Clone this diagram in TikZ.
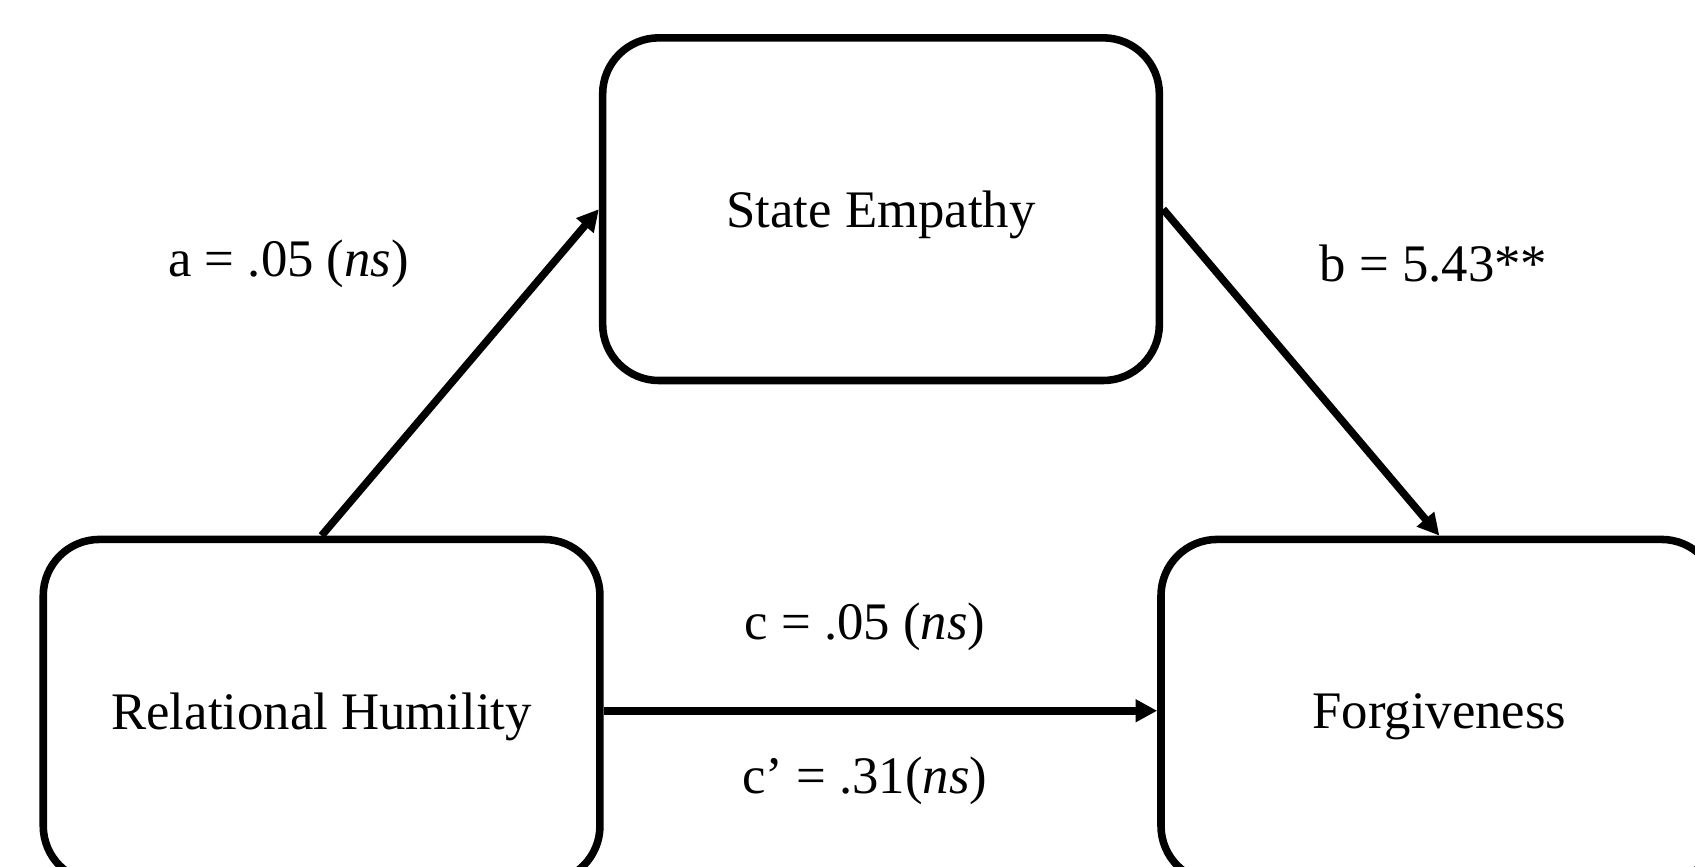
\documentclass[tikz,border=0pt]{standalone}
\usepackage{fontspec}
\setmainfont{Liberation Serif}
\usetikzlibrary{arrows.meta}
\begin{document}
\begin{tikzpicture}[x=0.5pt,y=-0.5pt,
  box/.style={draw=black, line width=3.5pt, rounded corners=26pt, minimum width=257.5pt, minimum height=158.5pt, inner sep=0pt, text depth=0pt, font=\fontsize{24.4}{29}\selectfont, fill=white},
  lbl/.style={font=\fontsize{24.4}{29}\selectfont, inner sep=0pt},
  conn/.style={line width=3.5pt, -{Triangle[length=10pt,width=10pt]}}]
\useasboundingbox (0,0) rectangle (1568,802);
\fill[white] (0,0) rectangle (1568,802);
\node[box] (se) at (815,193.5) {State Empathy};
\node[box] (rh) at (297.5,657.5) {Relational Humility};
\node[box] (fg) at (1331.5,657.5) {Forgiveness};
\draw[conn] (rh.north) -- (se.west);
\draw[conn] (se.east) -- (fg.north);
\draw[conn] (rh.east) -- (fg.west);
\node[lbl] (la) at (267,244) {a = .05 (\textit{ns})};
\node[lbl] (lb) at (1326,244) {b = 5.43**};
\node[lbl] (lc) at (800,580) {c = .05 (\textit{ns})};
\node[lbl] (lcp) at (800,722) {c’ = .31(\textit{ns})};
\end{tikzpicture}
\end{document}
